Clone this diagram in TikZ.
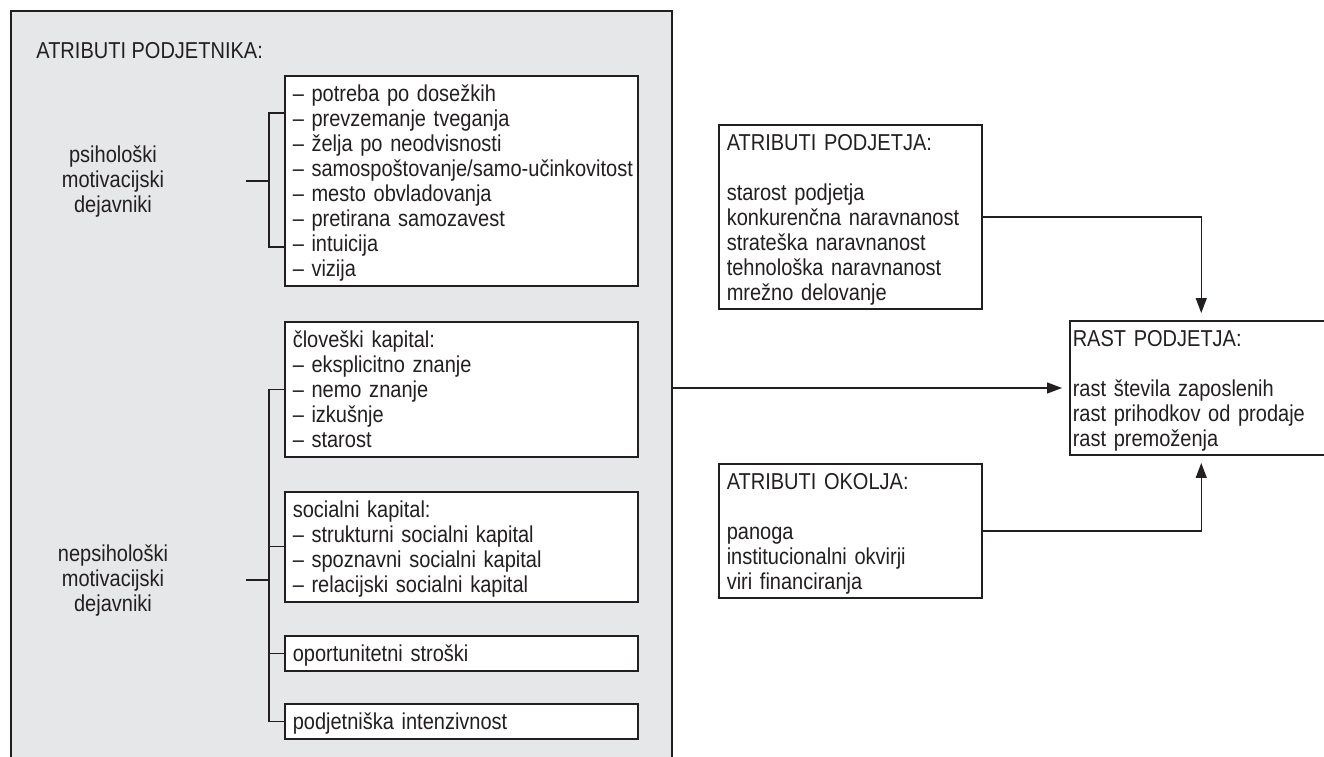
\documentclass[tikz,border=0pt]{standalone}
\usepackage{fontspec}
\setmainfont{Liberation Sans}[FakeStretch=0.87]
\usepackage{xcolor}
\usepackage{tikz}
\usetikzlibrary{positioning}
\usetikzlibrary{arrows.meta}
\definecolor{panelgray}{RGB}{230,231,232}
\definecolor{ink}{RGB}{35,31,32}
\newcommand{\cutdepth}{\endgraf\kern-\prevdepth}
\tikzstyle{panel}=[draw=ink,fill=panelgray,line width=0.75pt,inner sep=0pt,anchor=north west]
\tikzstyle{itembox}=[draw=ink,fill=white,line width=0.75pt,anchor=north west,align=left,inner xsep=4pt,inner ysep=4.6pt,text width=168.5pt,execute at end node=\cutdepth]
\tikzstyle{sidebox}=[itembox,inner xsep=4pt,text width=123.5pt]
\tikzstyle{factor}=[align=center,inner sep=0pt]
\tikzstyle{edge} = [draw=ink,line width=0.6pt,-{Triangle[length=7.5pt,width=5.5pt]},shorten >=3.5pt]
\tikzstyle{bracket} = [draw=ink,line width=0.6pt]

\begin{document}
\begin{tikzpicture}[x=0.5pt,y=-0.5pt,font=\fontsize{11.5}{12.5}\selectfont,text=ink]
    \useasboundingbox (0,0) rectangle (1324,756);
    % grey panel with the entrepreneur attributes
    \node[panel,minimum width=330.5pt,minimum height=380pt] (entr) at (10,10) {};
    \node[anchor=base west,inner sep=0pt] (entrtitle) at (36,58) {ATRIBUTI PODJETNIKA:};

    % boxes inside the panel
    \foreach \pos/\name/\txt in {{(284,75)/psych/{– potreba po dosežkih\\– prevzemanje tveganja\\– želja po neodvisnosti\\\mbox{– samospoštovanje/samo-učinkovitost}\\– mesto obvladovanja\\– pretirana samozavest\\– intuicija\\– vizija}},
    {(284,321)/human/{človeški kapital:\\– eksplicitno znanje\\– nemo znanje\\– izkušnje\\– starost}},
    {(284,491)/social/{socialni kapital:\\– strukturni socialni kapital\\– spoznavni socialni kapital\\– relacijski socialni kapital}},
    {(284,635)/oport/{oportunitetni stroški}},
    {(284,703)/intens/{podjetniška intenzivnost}}}
        \node[itembox] (\name) at \pos {\txt};

    \node[factor] (psy) at (113,182) {psihološki\\motivacijski\\dejavniki};
    \node[factor] (nepsy) at (113,581) {nepsihološki\\motivacijski\\dejavniki};
    \coordinate (psyj) at (269,181);
    \coordinate (psystub) at (246,181);
    \coordinate (npsyj) at (269,580);
    \coordinate (npsystub) at (246,580);

    % boxes on the right
    \node[sidebox] (firm) at (718,124) {ATRIBUTI PODJETJA:\\[12.5pt]starost podjetja\\konkurenčna naravnanost\\strateška naravnanost\\tehnološka naravnanost\\mrežno delovanje};
    \node[sidebox] (env) at (718,463) {ATRIBUTI OKOLJA:\\[12.5pt]panoga\\institucionalni okvirji\\viri financiranja};
    \node[sidebox,inner xsep=1.5pt,text width=128.5pt] (rast) at (1069,320) {RAST PODJETJA:\\[12.5pt]rast števila zaposlenih\\rast prihodkov od prodaje\\rast premoženja};

    % brackets
    \path[bracket] (psych.west |- 0,113) -| (psyj) |- (psych.west |- 0,247);
    \path[bracket] (psystub) -- (psyj);
    \path[bracket] (human.west) -| (npsyj) |- (intens.west);
    \foreach \dest in {social, oport}
        \path[bracket] (\dest.west -| npsyj) -- (\dest.west);
    \path[bracket] (npsystub) -- (npsyj);

    % arrows to firm growth
    \path[edge] (rast.west -| entr.east) -- (rast.west);
    \path[edge] (firm.east) -| (rast.north);
    \path[edge] (env.east) -| (rast.south);
\end{tikzpicture}
\end{document}
